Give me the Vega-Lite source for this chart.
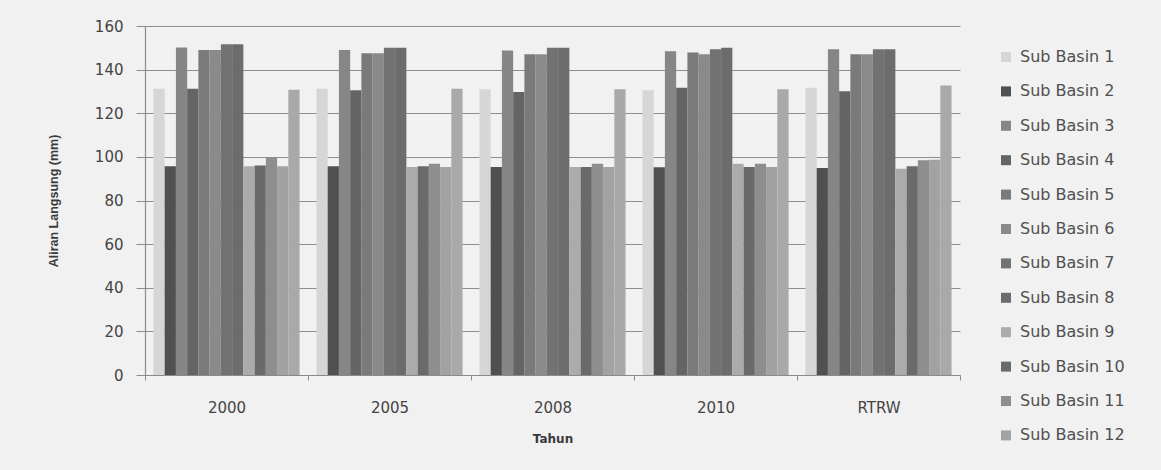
{
  "$schema": "https://vega.github.io/schema/vega-lite/v6.json",
  "width": 815,
  "height": 349,
  "autosize": "none",
  "padding": {"left": 145, "top": 26, "right": 201, "bottom": 95},
  "background": "#f1f1f1",
  "config": {
    "view": {"stroke": null},
    "axis": {
      "labelFont": "DejaVu Sans",
      "labelColor": "#444444",
      "titleColor": "#3a3a3a",
      "domainColor": "#8a8a8a",
      "tickColor": "#8a8a8a",
      "gridColor": "#8e8e8e",
      "gridWidth": 1
    }
  },
  "data": {
    "values": [
      {"t": "2000", "sb": "Sub Basin 1", "v": 131.2},
      {"t": "2000", "sb": "Sub Basin 2", "v": 95.7},
      {"t": "2000", "sb": "Sub Basin 3", "v": 150.1},
      {"t": "2000", "sb": "Sub Basin 4", "v": 131.2},
      {"t": "2000", "sb": "Sub Basin 5", "v": 149.0},
      {"t": "2000", "sb": "Sub Basin 6", "v": 149.0},
      {"t": "2000", "sb": "Sub Basin 7", "v": 151.6},
      {"t": "2000", "sb": "Sub Basin 8", "v": 151.6},
      {"t": "2000", "sb": "Sub Basin 9", "v": 95.7},
      {"t": "2000", "sb": "Sub Basin 10", "v": 96.0},
      {"t": "2000", "sb": "Sub Basin 11", "v": 99.5},
      {"t": "2000", "sb": "Sub Basin 12", "v": 95.7},
      {"t": "2000", "sb": "Sub Basin 13", "v": 130.8},
      {"t": "2005", "sb": "Sub Basin 1", "v": 131.2},
      {"t": "2005", "sb": "Sub Basin 2", "v": 95.7},
      {"t": "2005", "sb": "Sub Basin 3", "v": 149.0},
      {"t": "2005", "sb": "Sub Basin 4", "v": 130.6},
      {"t": "2005", "sb": "Sub Basin 5", "v": 147.5},
      {"t": "2005", "sb": "Sub Basin 6", "v": 147.5},
      {"t": "2005", "sb": "Sub Basin 7", "v": 150.0},
      {"t": "2005", "sb": "Sub Basin 8", "v": 150.0},
      {"t": "2005", "sb": "Sub Basin 9", "v": 95.4},
      {"t": "2005", "sb": "Sub Basin 10", "v": 95.7},
      {"t": "2005", "sb": "Sub Basin 11", "v": 96.9},
      {"t": "2005", "sb": "Sub Basin 12", "v": 95.4},
      {"t": "2005", "sb": "Sub Basin 13", "v": 131.2},
      {"t": "2008", "sb": "Sub Basin 1", "v": 131.0},
      {"t": "2008", "sb": "Sub Basin 2", "v": 95.4},
      {"t": "2008", "sb": "Sub Basin 3", "v": 148.8},
      {"t": "2008", "sb": "Sub Basin 4", "v": 129.7},
      {"t": "2008", "sb": "Sub Basin 5", "v": 147.0},
      {"t": "2008", "sb": "Sub Basin 6", "v": 147.0},
      {"t": "2008", "sb": "Sub Basin 7", "v": 150.0},
      {"t": "2008", "sb": "Sub Basin 8", "v": 150.0},
      {"t": "2008", "sb": "Sub Basin 9", "v": 95.4},
      {"t": "2008", "sb": "Sub Basin 10", "v": 95.4},
      {"t": "2008", "sb": "Sub Basin 11", "v": 96.9},
      {"t": "2008", "sb": "Sub Basin 12", "v": 95.4},
      {"t": "2008", "sb": "Sub Basin 13", "v": 131.0},
      {"t": "2010", "sb": "Sub Basin 1", "v": 130.6},
      {"t": "2010", "sb": "Sub Basin 2", "v": 95.3},
      {"t": "2010", "sb": "Sub Basin 3", "v": 148.4},
      {"t": "2010", "sb": "Sub Basin 4", "v": 131.7},
      {"t": "2010", "sb": "Sub Basin 5", "v": 147.8},
      {"t": "2010", "sb": "Sub Basin 6", "v": 147.0},
      {"t": "2010", "sb": "Sub Basin 7", "v": 149.3},
      {"t": "2010", "sb": "Sub Basin 8", "v": 150.0},
      {"t": "2010", "sb": "Sub Basin 9", "v": 96.9},
      {"t": "2010", "sb": "Sub Basin 10", "v": 95.4},
      {"t": "2010", "sb": "Sub Basin 11", "v": 96.9},
      {"t": "2010", "sb": "Sub Basin 12", "v": 95.4},
      {"t": "2010", "sb": "Sub Basin 13", "v": 131.0},
      {"t": "RTRW", "sb": "Sub Basin 1", "v": 131.7},
      {"t": "RTRW", "sb": "Sub Basin 2", "v": 94.9},
      {"t": "RTRW", "sb": "Sub Basin 3", "v": 149.3},
      {"t": "RTRW", "sb": "Sub Basin 4", "v": 130.1},
      {"t": "RTRW", "sb": "Sub Basin 5", "v": 147.0},
      {"t": "RTRW", "sb": "Sub Basin 6", "v": 147.0},
      {"t": "RTRW", "sb": "Sub Basin 7", "v": 149.3},
      {"t": "RTRW", "sb": "Sub Basin 8", "v": 149.3},
      {"t": "RTRW", "sb": "Sub Basin 9", "v": 94.5},
      {"t": "RTRW", "sb": "Sub Basin 10", "v": 95.7},
      {"t": "RTRW", "sb": "Sub Basin 11", "v": 98.4},
      {"t": "RTRW", "sb": "Sub Basin 12", "v": 98.7},
      {"t": "RTRW", "sb": "Sub Basin 13", "v": 132.7}
    ]
  },
  "mark": {"type": "bar"},
  "encoding": {
    "x": {
      "field": "t",
      "type": "nominal",
      "sort": null,
      "scale": {"paddingInner": 0, "paddingOuter": 0},
      "axis": {
        "title": "Tahun",
        "titleFont": "DejaVu Sans",
        "titleFontSize": 12,
        "titleFontWeight": "bold",
        "titlePadding": 18,
        "labelAngle": 0,
        "labelFontSize": 15,
        "labelPadding": 20,
        "tickBand": "extent",
        "tickSize": 5,
        "domainWidth": 1.2
      }
    },
    "xOffset": {
      "field": "sb",
      "type": "nominal",
      "scale": {
        "domain": ["Sub Basin 1", "Sub Basin 2", "Sub Basin 3", "Sub Basin 4", "Sub Basin 5", "Sub Basin 6", "Sub Basin 7", "Sub Basin 8", "Sub Basin 9", "Sub Basin 10", "Sub Basin 11", "Sub Basin 12", "Sub Basin 13"],
        "paddingInner": 0,
        "paddingOuter": 0.75
      }
    },
    "y": {
      "field": "v",
      "type": "quantitative",
      "scale": {"domain": [0, 160], "nice": false},
      "axis": {
        "title": "Aliran Langsung (mm)",
        "titleFont": "Liberation Sans",
        "titleFontSize": 12.5,
        "titleFontWeight": "bold",
        "titlePadding": 34,
        "values": [0, 20, 40, 60, 80, 100, 120, 140, 160],
        "labelFontSize": 15,
        "labelPadding": 13,
        "tickSize": 9,
        "domainWidth": 1.2
      }
    },
    "color": {
      "field": "sb",
      "type": "nominal",
      "scale": {
        "domain": ["Sub Basin 1", "Sub Basin 2", "Sub Basin 3", "Sub Basin 4", "Sub Basin 5", "Sub Basin 6", "Sub Basin 7", "Sub Basin 8", "Sub Basin 9", "Sub Basin 10", "Sub Basin 11", "Sub Basin 12", "Sub Basin 13"],
        "range": ["#d6d6d6", "#505050", "#868686", "#646464", "#7a7a7a", "#8a8a8a", "#727272", "#6c6c6c", "#ababab", "#6a6a6a", "#8e8e8e", "#a2a2a2", "#a9a9a9"]
      },
      "legend": {
        "title": null,
        "orient": "none",
        "legendX": 853,
        "legendY": 23,
        "values": ["Sub Basin 1", "Sub Basin 2", "Sub Basin 3", "Sub Basin 4", "Sub Basin 5", "Sub Basin 6", "Sub Basin 7", "Sub Basin 8", "Sub Basin 9", "Sub Basin 10", "Sub Basin 11", "Sub Basin 12"],
        "symbolType": "square",
        "symbolSize": 100,
        "symbolStrokeWidth": 0,
        "labelFont": "DejaVu Sans",
        "labelFontSize": 16,
        "labelColor": "#505050",
        "labelOffset": 6,
        "rowPadding": 18.4
      }
    }
  }
}
